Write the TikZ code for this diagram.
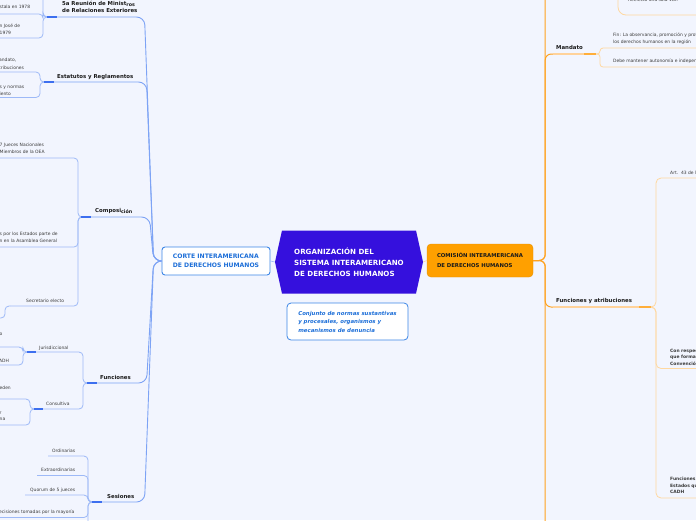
\documentclass[tikz,border=0pt]{standalone}
\usepackage{fontspec}
\setmainfont{DejaVu Sans}
\usetikzlibrary{shapes.symbols,calc}
\definecolor{bg}{HTML}{F2F5FE}
\definecolor{txtc}{HTML}{3A3A3A}
\definecolor{brc}{HTML}{1A1A1A}
\definecolor{blueln}{HTML}{7DA3F5}
\definecolor{bluesub}{HTML}{9DB9F7}
\definecolor{bluethk}{HTML}{3D6FEF}
\definecolor{orangeln}{HTML}{FFA21F}
\definecolor{orangesub}{HTML}{FFD8A0}
\definecolor{orangelight}{HTML}{FFD29A}
\definecolor{orangethk}{HTML}{FFAE3A}
\definecolor{purp}{HTML}{3510DD}
\definecolor{cblue}{HTML}{3C86E6}
\definecolor{ctext}{HTML}{1C6ED8}
\definecolor{comi}{HTML}{FFA000}
\tikzset{
  txt/.style={font=\fontsize{4.45}{7.2}\selectfont, text=txtc, inner sep=0pt, anchor=base west, align=left},
  btxt/.style={font=\bfseries\fontsize{4.45}{6.6}\selectfont, text=txtc, inner sep=0pt, anchor=base west, align=left},
  branch/.style={font=\bfseries\fontsize{5.4}{7.2}\selectfont, text=brc, inner sep=0pt, anchor=base west, align=left},
  bl/.style={draw=blueln, line width=0.9pt, rounded corners=8pt},
  blsub/.style={draw=bluesub, line width=0.8pt, rounded corners=4pt},
  blthk/.style={draw=bluethk, line width=1.7pt},
  ol/.style={draw=orangeln, line width=1pt, rounded corners=6pt},
  olsub/.style={draw=orangesub, line width=0.8pt, rounded corners=5pt},
  ollight/.style={draw=orangelight, line width=1.1pt},
  olthk/.style={draw=orangethk, line width=1.7pt},
  lb/.style={to path={-- ++(-8,0) -- ($(\tikztotarget -| \tikztostart)+(-#1,0)$) -- (\tikztotarget)}},
  brk/.style={to path={-- ++(#1,0) |- (\tikztotarget)}},
  central/.style={signal, signal to=east and west, signal pointer angle=155, fill=purp, draw=none,
    minimum width=148pt, minimum height=63pt, inner sep=0pt, text=white, align=left,
    font=\bfseries\fontsize{7.1}{11}\selectfont},
  cortebox/.style={rectangle, rounded corners=3pt, draw=cblue, line width=0.9pt, fill=white,
    minimum width=108pt, minimum height=28pt, inner sep=0pt, text=ctext, align=left,
    font=\bfseries\fontsize{6.1}{9}\selectfont},
  notebox/.style={rectangle, rounded corners=4pt, draw=cblue, line width=0.8pt, fill=white,
    minimum width=121pt, minimum height=37pt, inner sep=0pt, text=ctext, align=left,
    font=\bfseries\itshape\fontsize{5.4}{8.5}\selectfont},
  comibox/.style={rectangle, rounded corners=4pt, draw=comi!90!black, line width=0.4pt, fill=comi,
    minimum width=106pt, minimum height=33pt, inner sep=0pt, text=brc, align=left,
    font=\bfseries\fontsize{5.33}{10}\selectfont},
}
\begin{document}
\begin{tikzpicture}[x=1pt,y=-1pt]
\path[use as bounding box, fill=bg] (0,0) rectangle (696,520);
\begin{scope}
\clip (0,0) rectangle (696,520);
% ---------- main nodes
\node[central] (org) at (349,262) {ORGANIZACIÓN DEL\\SISTEMA INTERAMERICANO\\DE DERECHOS HUMANOS};
\node[cortebox] (corte) at (216,261) {CORTE INTERAMERICANA\\DE DERECHOS HUMANOS};
\node[notebox] (nota) at (347.5,321.5) {Conjunto de normas sustantivas\\y procesales, organismos y\\mecanismos de denuncia};
\node[comibox] (comision) at (480,260.5) {COMISIÓN INTERAMERICANA\\DE DERECHOS HUMANOS};
\draw[draw=bluesub, line width=0.6pt] (corte.east) -- (org.west);
\draw[draw=orangesub, line width=0.6pt] (org.east) -- (comision.west);

% ---------- left coordinates
\coordinate (A) at (47,17);
\coordinate (B) at (44,82);
\coordinate (C) at (81,217);
\coordinate (D) at (87,383);
\coordinate (E) at (92,502);
\coordinate (a0) at (-5,-12);
\coordinate (a1) at (-5,14);
\coordinate (a2) at (-5,38);
\coordinate (b1) at (-5,72);
\coordinate (b2) at (-5,97.5);
\coordinate (c1) at (-5,158);
\coordinate (c2) at (-5,247);
\coordinate (SecL) at (10,306);
\coordinate (c3) at (-5,318);
\coordinate (J) at (27,352);
\coordinate (K) at (34,409);
\coordinate (j1) at (-5,347);
\coordinate (j2) at (-5,365);
\coordinate (k1) at (-5,399);
\coordinate (k2) at (-5,425);
\coordinate (e1) at (48,456);
\coordinate (e2) at (37,475.5);
\coordinate (e3) at (25,495);
\coordinate (e4) at (-5,517.5);
\coordinate (e5) at (-5,545);

% left trunk
\draw[bl] (corte.west) to[lb=17] (A);
\draw[bl] (corte.west) to[lb=15] (B);
\draw[bl] (corte.west) to[lb=12] (C);
\draw[bl] (corte.west) to[lb=15] (D);
\draw[bl] (corte.west) to[lb=17] (E);
% left sub brackets
\draw[blsub] (A) to[brk=-4] (a0);
\draw[blsub] (A) to[brk=-4] (a1);
\draw[blsub] (A) to[brk=-4] (a2);
\draw[blsub] (B) to[brk=-4] (b1);
\draw[blsub] (B) to[brk=-4] (b2);
\draw[blsub] (C) to[brk=-3] (c1);
\draw[blsub] (C) to[brk=-3] (c2);
\draw[blsub] (C) to[brk=-3] (SecL);
\draw[blsub] (SecL) to[brk=-5] (c3);
\draw[blsub] (D) to[brk=-4] (J);
\draw[blsub] (D) to[brk=-4] (K);
\draw[blsub] (J) to[brk=-4] (j1);
\draw[blsub] (J) to[brk=-4] (j2);
\draw[blsub] (K) to[brk=-4] (k1);
\draw[blsub] (K) to[brk=-4] (k2);
\draw[blsub] (E) to[brk=-4] (e1);
\draw[blsub] (E) to[brk=-4] (e2);
\draw[blsub] (E) to[brk=-4] (e3);
\draw[blsub] (E) to[brk=-4] (e4);
\draw[blsub] (E) to[brk=-4] (e5);
% thick starts
\draw[blthk] (A) -- ++(10,0);
\draw[blthk] (B) -- ++(10,0);
\draw[blthk] (C) -- ++(10,0);
\draw[blthk] (D) -- ++(10,0);
\draw[blthk] (E) -- ++(10,0);
\draw[blthk, line width=1.3pt] (J) -- ++(9,0);
\draw[blthk, line width=1.3pt] (K) -- ++(9,0);

% left texts (multi-line nodes: base = last line)
\node[branch] (nA) at (62,12.7) {5a Reunión de Minist\raisebox{-1.2pt}{\fontsize{4.8}{5}\selectfont ros}\\de Relaciones Exteriores};
\node[txt] (tA1) at (-0.5,8.4) {stala en 1978};
\node[txt] (tA2) at (-0.5,34.2) {n José de\\1979};
\node[branch] (nB) at (57,78) {Estatutos y Reglamentos};
\node[txt] (tB1) at (-1,69) {andato,\\tribuciones};
\node[txt] (tB2) at (-0.5,95.2) {s y normas\\iento};
\node[branch] (nC) at (95,212.5) {Composi\raisebox{-1.3pt}{\fontsize{4.8}{5}\selectfont ción}};
\node[txt] (tC1) at (-0.5,153.8) {7 Jueces Nacionales\\Miembros de la OEA};
\node[txt] (tC2) at (-0.5,242.7) {s por los Estados parte de\\n en la Asamblea General};
\node[txt] (tC3) at (26,302) {Secretario electo};
\node[branch] (nD) at (100,379) {Funciones};
\node[txt] (tJ) at (39,349) {Jurisdiccional};
\node[txt] (tK) at (46,405) {Consultiva};
\node[txt] (tj1) at (-0.5,335) {o};
\node[txt] (tj2) at (-1,362.5) {ADH};
\node[txt] (tk1) at (-0.5,389) {eden};
\node[txt] (tk2) at (-0.5,420) {r\\[-1.7pt]na};
\node[branch] (nE) at (107,498) {Sesiones};
\node[txt] (te1) at (52,452) {Ordinarias};
\node[txt] (te2) at (41,471.6) {Extraordinarias};
\node[txt] (te3) at (30,491) {Quorum de 5 jueces};
\node[txt] (te4) at (-1,513.8) {ecisiones tomadas por la mayoría};

% ---------- right side
\coordinate (M) at (596,54);
\coordinate (F) at (651,307);
\coordinate (otop) at (600,-20);
\coordinate (obot) at (600,540);
\coordinate (fin) at (705,48);
\coordinate (debe) at (705,67);
\coordinate (relP) at (618,-20);
\coordinate (relE) at (705,15);
\coordinate (art) at (705,178);
\coordinate (conr) at (705,368.5);
\coordinate (fun2) at (705,498);

\draw[ol] (comision.east) to[brk=12] (otop);
\draw[ol] (comision.east) to[brk=12] (obot);
\draw[ol] (comision.east) to[brk=12] (M);
\draw[ol] (comision.east) to[brk=12] (F);
\draw[ollight] ($(M)+(-43,0)$) -- ($(M)+(-12,0)$);
\draw[ollight] ($(F)+(-98,0)$) -- ($(F)+(-12,0)$);
\draw[olthk] (M) -- ++(-12,0);
\draw[olthk] (F) -- ++(-12,0);
\draw[olsub, rounded corners=3pt] (M) to[brk=4] (fin);
\draw[olsub, rounded corners=3pt] (M) to[brk=4] (debe);
\draw[olsub, rounded corners=8pt] (relP) |- (relE);
\draw[olsub] (F) to[brk=5] (art);
\draw[olsub] (F) to[brk=5] (conr);
\draw[olsub] (F) to[brk=5] (fun2);

\node[branch] (nM) at (556,49.5) {Mandato};
\node[txt] (tM1) at (613,43.9) {Fin: La observancia, promoción y protección de\\los derechos humanos en la región};
\node[txt] (tM2) at (613,62.6) {Debe mantener autonomía e independencia};
\node[txt] (tRel) at (628,1.8) {Reelecto una sola vez.};
\node[branch] (nF) at (556,302) {Funciones y atribuciones};
\node[txt] (tArt) at (670,174) {Art.\ \ 43 de la CADH};
\node[btxt] (tCon) at (670,365.2) {Con respecto a los Estados\\que forman parte de la\\Convención};
\node[btxt] (tFun) at (670,493.7) {Funciones respecto a los\\Estados que son parte de la\\CADH};
\end{scope}
\end{tikzpicture}
\end{document}
